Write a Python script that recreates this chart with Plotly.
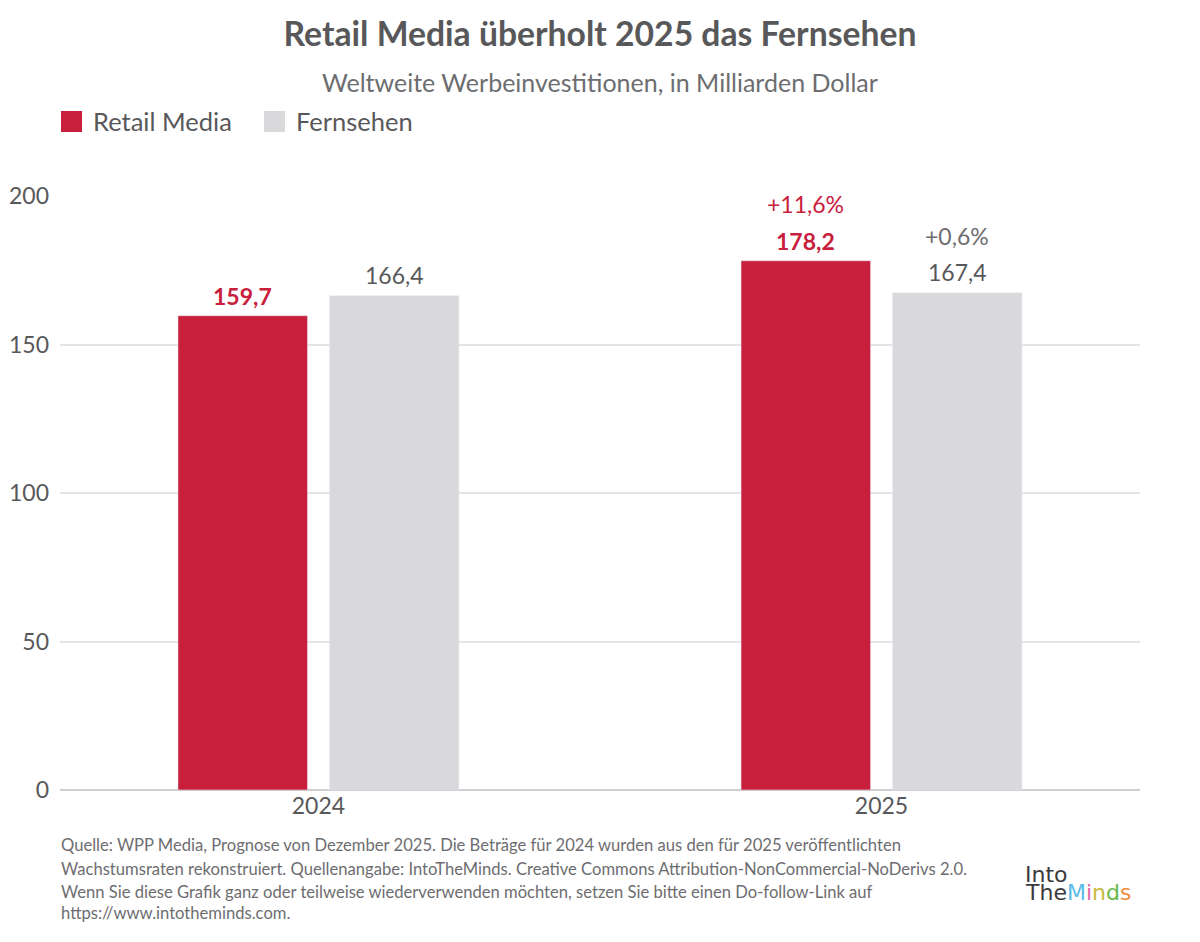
import plotly.graph_objects as go

# Chart data
years = ['2024', '2025']
retail_media = [159.7, 178.2]
fernsehen = [166.4, 167.4]
retail_growth = [None, '+11,6%']
tv_growth = [None, '+0,6%']
y_ticks = [0, 50, 100, 150, 200]

footer_lines = [
    'Quelle: WPP Media, Prognose von Dezember 2025. Die Beträge für 2024 wurden aus den für 2025 veröffentlichten',
    'Wachstumsraten rekonstruiert. Quellenangabe: IntoTheMinds. Creative Commons Attribution-NonCommercial-NoDerivs 2.0.',
    'Wenn Sie diese Grafik ganz oder teilweise wiederverwenden möchten, setzen Sie bitte einen Do-follow-Link auf',
    'https://www.intotheminds.com.',
]

RED = '#c8203c'
GREY = '#d9d8db'
TEXT = '#58585a'
SOFT = '#6d6d70'
FONT = 'Lato, "Open Sans", sans-serif'
LOGO_FONT = '"DejaVu Sans", sans-serif'

BARGAP = 0.462
GROUPGAP = 0.145
slot = (1 - BARGAP) / 2

# page has an 8px body margin, so the figure is sized to fit the window
W, H = 1192, 934
PLOT_L, PLOT_R, PLOT_T, PLOT_B = 60, 1140, 196, 790  # plot area in window pixels


def fmt(v):
    return '{:.1f}'.format(v).replace('.', ',')


def px(x):
    return (x - PLOT_L) / (PLOT_R - PLOT_L)


def py(y):
    return (PLOT_B - y) / (PLOT_B - PLOT_T)


def main():
    fig = go.Figure()
    fig.add_trace(go.Bar(x=years, y=retail_media, name='Retail Media',
                         marker_color=RED, showlegend=False, hoverinfo='skip'))
    fig.add_trace(go.Bar(x=years, y=fernsehen, name='Fernsehen',
                         marker_color=GREY, showlegend=False, hoverinfo='skip'))

    # value and growth labels
    for i, year in enumerate(years):
        fig.add_annotation(x=i - slot / 2, y=retail_media[i], text='<b>' + fmt(retail_media[i]) + '</b>',
                           showarrow=False, yanchor='middle', yshift=20,
                           font=dict(size=23, color=RED, family=FONT))
        fig.add_annotation(x=i + slot / 2, y=fernsehen[i], text=fmt(fernsehen[i]),
                           showarrow=False, yanchor='middle', yshift=21,
                           font=dict(size=23, color=TEXT, family=FONT))
        if retail_growth[i]:
            fig.add_annotation(x=i - slot / 2, y=retail_media[i], text=retail_growth[i],
                               showarrow=False, yanchor='middle', yshift=57,
                               font=dict(size=23, color=RED, family=FONT))
        if tv_growth[i]:
            fig.add_annotation(x=i + slot / 2, y=fernsehen[i], text=tv_growth[i],
                               showarrow=False, yanchor='middle', yshift=57,
                               font=dict(size=23, color=SOFT, family=FONT))

    # legend drawn by hand so the swatches are large
    legend = [('Retail Media', RED, 61), ('Fernsehen', GREY, 264)]
    for label, color, x0 in legend:
        fig.add_shape(type='rect', xref='paper', yref='paper',
                      x0=px(x0), x1=px(x0 + 21), y0=py(132), y1=py(111),
                      fillcolor=color, line_width=0)
        fig.add_annotation(x=px(x0 + 30), y=py(121), xref='paper', yref='paper',
                           text=label, showarrow=False, xanchor='left', yanchor='middle',
                           font=dict(size=25.5, color=TEXT, family=FONT))

    # subtitle
    fig.add_annotation(x=px(600), y=py(82), xref='paper', yref='paper',
                       text='Weltweite Werbeinvestitionen, in Milliarden Dollar', showarrow=False,
                       yanchor='middle', font=dict(size=25, color=SOFT, family=FONT))

    # footer
    footer_y = [845, 869, 892, 913]
    for line, y in zip(footer_lines, footer_y):
        fig.add_annotation(x=px(59), y=py(y), xref='paper', yref='paper',
                           text=line, showarrow=False, xanchor='left', yanchor='middle',
                           font=dict(size=16.6, color=SOFT, family=FONT))

    # logo text
    fig.add_annotation(x=px(1023), y=py(874), xref='paper', yref='paper',
                       text='Into', showarrow=False, xanchor='left', yanchor='middle',
                       font=dict(size=22, color='#3a3a3c', family=LOGO_FONT))
    fig.add_annotation(x=px(1023), y=py(892), xref='paper', yref='paper',
                       text='The<span style="color:#5bbbe8">M</span><span style="color:#e26aa6">i</span>'
                            '<span style="color:#c8bb3a">n</span><span style="color:#6ab84a">d</span>'
                            '<span style="color:#ef8b3c">s</span>',
                       showarrow=False, xanchor='left', yanchor='middle',
                       font=dict(size=22, color='#3a3a3c', family=LOGO_FONT))

    fig.update_layout(
        width=W, height=H,
        margin=dict(l=PLOT_L - 8, r=W + 8 - PLOT_R, t=PLOT_T - 8, b=H + 8 - PLOT_B),
        paper_bgcolor='white', plot_bgcolor='white',
        barmode='group', bargap=BARGAP, bargroupgap=GROUPGAP,
        font=dict(family=FONT, color=TEXT),
        title=dict(text='<b>Retail Media überholt 2025 das Fernsehen</b>',
                   x=(600 - 8) / W, xanchor='center', y=1 - (34 - 8) / H, yanchor='middle',
                   font=dict(size=33.7, color=TEXT, family=FONT)),
        xaxis=dict(type='category', range=[-0.459, 1.459], showgrid=False, automargin=False,
                   tickfont=dict(size=23, color=TEXT), ticks='', showline=False),
        yaxis=dict(range=[0, 200], tickvals=y_ticks, showgrid=True, gridcolor='#e4e4e6',
                   gridwidth=1.5, zeroline=True, zerolinecolor='#cfcfd3', zerolinewidth=2,
                   automargin=False,
                   tickfont=dict(size=23, color=TEXT), ticks='', ticklabelstandoff=10),
    )
    fig.write_html('out.html')


if __name__ == '__main__':
    main()
